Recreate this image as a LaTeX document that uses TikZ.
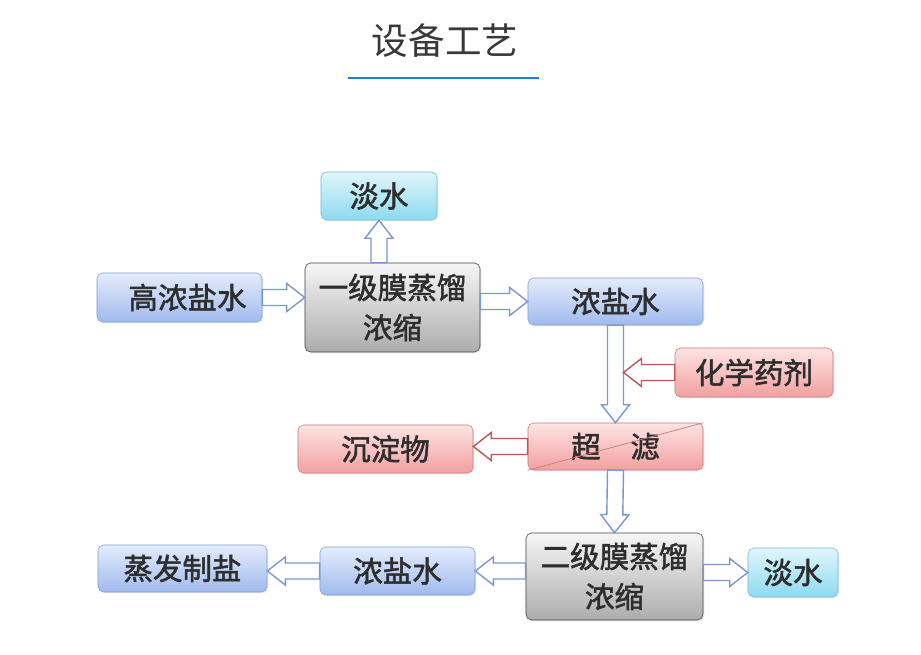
\documentclass[tikz,border=0pt]{standalone}
\usepackage{fontspec}
\usepackage{tikz}
\usetikzlibrary{positioning,shapes,shadows,arrows,calc,backgrounds}

\newfontfamily\cjk[FakeBold=1.8]{Noto Sans CJK SC}
\newfontfamily\cjktitle{Noto Sans CJK SC}

\definecolor{blueTop}{RGB}{228,236,252}
\definecolor{blueBot}{RGB}{160,186,238}
\definecolor{blueLine}{RGB}{130,160,215}
\definecolor{cyanTop}{RGB}{225,246,252}
\definecolor{cyanBot}{RGB}{140,218,240}
\definecolor{cyanLine}{RGB}{120,185,210}
\definecolor{grayTop}{RGB}{246,246,246}
\definecolor{grayBot}{RGB}{172,172,172}
\definecolor{grayLine}{RGB}{70,70,70}
\definecolor{redTop}{RGB}{253,228,228}
\definecolor{redBot}{RGB}{242,160,160}
\definecolor{redLine}{RGB}{205,120,120}
\definecolor{arrowBlue}{RGB}{122,152,208}
\definecolor{arrowRed}{RGB}{198,82,82}
\definecolor{titleBlue}{RGB}{28,128,215}

\tikzset{
  box/.style={rectangle, rounded corners=4pt, inner sep=0pt, align=center,
    font=\cjk\fontsize{21}{28.5}\selectfont, text=black!82,
    drop shadow={opacity=0.15, shadow xshift=1pt, shadow yshift=-1pt}},
  bluebox/.style={box, draw=blueLine, top color=blueTop, bottom color=blueBot},
  cyanbox/.style={box, draw=cyanLine, top color=cyanTop, bottom color=cyanBot},
  graybox/.style={box, draw=grayLine, top color=grayTop, bottom color=grayBot},
  redbox/.style={box, draw=redLine, top color=redTop, bottom color=redBot},
  fat/.style={draw=#1, fill=white, line width=1pt, line join=miter,
    to path={let \p1=(\tikztostart), \p2=(\tikztotarget),
      \n1={atan2(\y2-\y1,\x2-\x1)}, \n2={veclen(\x2-\x1,\y2-\y1)} in
      (\p1) -- ++(\n1+90:0.2cm) -- ++(\n1:\n2-0.45cm) -- ++(\n1+90:0.15cm)
      -- (\p2) -- ++(\n1+180+37.87:0.57cm) -- ++(\n1+90:0.15cm)
      -- ++(\n1+180:\n2-0.45cm) -- cycle}},
}

\begin{document}
\begin{tikzpicture}[x=0.025cm, y=-0.025cm]

\fill[white] (0,0) rectangle (921,655);
\useasboundingbox (0,0) rectangle (921,655);

% title
\node[font=\cjktitle\fontsize{26}{30}\selectfont, text=black!78] (title) at (445,41) {设备工艺};
\draw[titleBlue, line width=2.1pt] (348,78) -- (539,78);

% first stage
\node[cyanbox, minimum width=2.9cm, minimum height=1.2cm] (dsA) at (379,196) {淡水};
\node[bluebox, minimum width=4.125cm, minimum height=1.225cm] (gns) at (179.5,297.5) {\hspace{0.4cm}高浓盐水};
\node[graybox, minimum width=4.375cm, minimum height=2.225cm] (mdA) at (392.5,307.5) {一级膜蒸馏\\浓缩};
\node[bluebox, minimum width=4.375cm, minimum height=1.175cm] (nsA) at (615.5,301.5) {浓盐水};

% treatment
\node[redbox, minimum width=3.95cm, minimum height=1.225cm] (hx) at (754,372.5) {化学药剂};
\node[redbox, minimum width=4.375cm, minimum height=1.175cm] (cl) at (615.5,446.5) {超　滤};
\draw[redLine, line width=0.5pt] (cl.south west) -- (cl.north east);
\node[redbox, minimum width=4.375cm, minimum height=1.2cm] (cd) at (385.5,449) {沉淀物};

% second stage
\node[graybox, minimum width=4.425cm, minimum height=2.175cm] (mdB) at (614.5,576.5) {二级膜蒸馏\\浓缩};
\node[bluebox, minimum width=3.875cm, minimum height=1.2cm] (nsB) at (397.5,571) {浓盐水};
\node[bluebox, minimum width=4.225cm, minimum height=1.175cm] (zf) at (182.5,568.5) {蒸发制盐};
\node[cyanbox, minimum width=2.25cm, minimum height=1.225cm] (dsB) at (793,572.5) {淡水};

% flows
\draw[fat=arrowBlue] (gns.east) to (gns.east -| mdA.west);
\draw[fat=arrowBlue] (dsA.south |- mdA.north) to (dsA.south);
\draw[fat=arrowBlue] (mdA.east |- nsA.west) to (nsA.west);
\draw[fat=arrowBlue] (nsA.south) to (cl.north);
\coordinate (mix) at ($(hx.west -| nsA.south)+(0.2cm,0)$);
\draw[fat=arrowRed] (hx.west) to (mix);
\draw[fat=arrowRed] (cl.west) to (cl.west -| cd.east);
\draw[fat=arrowBlue] (cl.south) to (mdB.north);
\draw[fat=arrowBlue] (mdB.west |- nsB.east) to (nsB.east);
\draw[fat=arrowBlue] (nsB.west) to (nsB.west -| zf.east);
\draw[fat=arrowBlue] (mdB.east |- dsB.west) to (dsB.west);

\end{tikzpicture}
\end{document}
